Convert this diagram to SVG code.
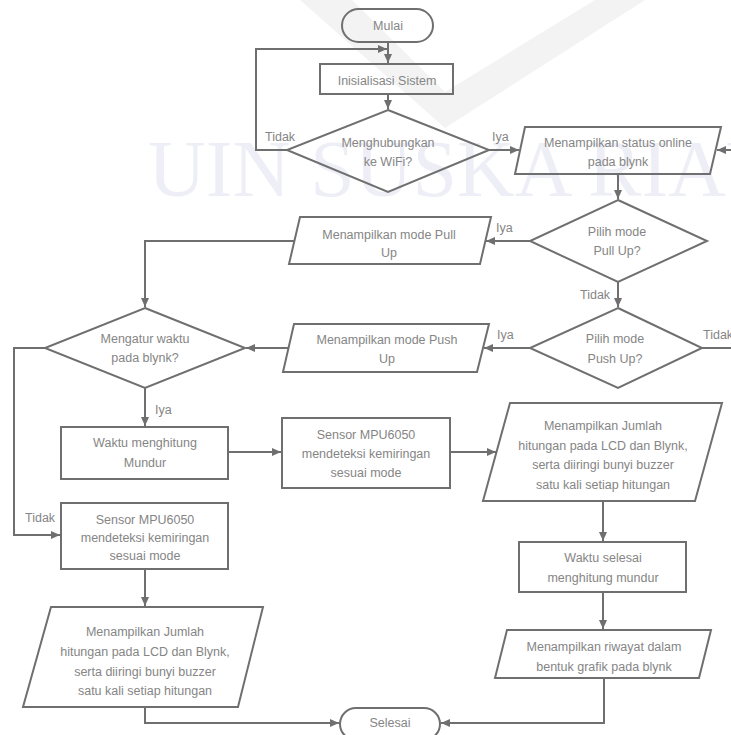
<svg xmlns="http://www.w3.org/2000/svg" width="731" height="735" viewBox="0 0 731 735">
<style>
.bg{fill:#ffffff}
.wm{font-family:"Liberation Serif","Times New Roman",serif;font-size:80px;fill:#eeeef7}
.v{fill:#f3f3f3}
.s{fill:none;stroke:#6f6f6f;stroke-width:2}
.ln{fill:none;stroke:#6f6f6f;stroke-width:2}
.t{font-family:"Liberation Sans",Arial,sans-serif;font-size:12.5px;fill:#858585;text-anchor:middle}
.l{font-family:"Liberation Sans",Arial,sans-serif;font-size:12.5px;fill:#858585;text-anchor:start}
</style>
<defs>
<marker id="ah" markerUnits="userSpaceOnUse" markerWidth="10" markerHeight="10" refX="9" refY="4" orient="auto">
<path d="M0,0 L9,4 L0,8 z" fill="#6f6f6f"/>
</marker>
</defs>
<rect class="bg" x="0" y="0" width="731" height="735"/>
<g id="watermark">
<polygon class="v" points="300,0 445,128 645,0 595,0 445,92 352,0"/>
<text class="wm" x="148" y="196">UIN SUSKA RIAU</text>
</g>
<g id="connectors">
<path class="ln" d="M388,42 V63" marker-end="url(#ah)"/>
<path class="ln" d="M287,150 H256 V49 H387" marker-end="url(#ah)"/>
<path class="ln" d="M388,94 V109" marker-end="url(#ah)"/>
<path class="ln" d="M489,150 H519" marker-end="url(#ah)"/>
<path class="ln" d="M702,348 H735 V150 H717" marker-end="url(#ah)"/>
<path class="ln" d="M618,174 V199" marker-end="url(#ah)"/>
<path class="ln" d="M530,241 H486" marker-end="url(#ah)"/>
<path class="ln" d="M294,241 H145 V307" marker-end="url(#ah)"/>
<path class="ln" d="M618,282 V307" marker-end="url(#ah)"/>
<path class="ln" d="M530,348 H484" marker-end="url(#ah)"/>
<path class="ln" d="M288,348 H246" marker-end="url(#ah)"/>
<path class="ln" d="M45,348 H14 V535 H60" marker-end="url(#ah)"/>
<path class="ln" d="M145,388 V426" marker-end="url(#ah)"/>
<path class="ln" d="M228,452 H281" marker-end="url(#ah)"/>
<path class="ln" d="M450,452 H496" marker-end="url(#ah)"/>
<path class="ln" d="M603,501 V541" marker-end="url(#ah)"/>
<path class="ln" d="M603,592 V629" marker-end="url(#ah)"/>
<path class="ln" d="M604,678 V723 H441" marker-end="url(#ah)"/>
<path class="ln" d="M145,569 V606" marker-end="url(#ah)"/>
<path class="ln" d="M145,707 V723 H339" marker-end="url(#ah)"/>
<text class="l" x="265" y="141">Tidak</text>
<text class="l" x="492" y="141">Iya</text>
<text class="l" x="496" y="232">Iya</text>
<text class="l" x="580" y="299">Tidak</text>
<text class="l" x="497" y="339">Iya</text>
<text class="l" x="703" y="339">Tidak</text>
<text class="l" x="155" y="414">Iya</text>
<text class="l" x="25" y="522">Tidak</text>
</g>
<g id="mulai">
<rect class="s" x="342" y="9" width="91" height="33" rx="16.5"/>
<text class="t" x="388" y="29.5">Mulai</text>
</g>
<g id="inisialisasi">
<rect class="s" x="320" y="64" width="133" height="30"/>
<text class="t" x="387" y="84.5">Inisialisasi Sistem</text>
</g>
<g id="wifi">
<polygon class="s" points="388,110 489,150 388,192 287,150"/>
<text class="t" x="388" y="147">Menghubungkan</text>
<text class="t" x="388" y="166">ke WiFi?</text>
</g>
<g id="status-online">
<polygon class="s" points="525,127 721,127 710,174 515,174"/>
<text class="t" x="618" y="147">Menampilkan status online</text>
<text class="t" x="618" y="166">pada blynk</text>
</g>
<g id="pullup-decision">
<polygon class="s" points="618,200 707,241 618,282 530,241"/>
<text class="t" x="617" y="236">Pilih mode</text>
<text class="t" x="617" y="255">Pull Up?</text>
</g>
<g id="pullup-output">
<polygon class="s" points="300,217 491,217 480,264 289,264"/>
<text class="t" x="389" y="239">Menampilkan mode Pull</text>
<text class="t" x="389" y="257">Up</text>
</g>
<g id="pushup-decision">
<polygon class="s" points="618,308 702,348 618,388 530,348"/>
<text class="t" x="615" y="343">Pilih mode</text>
<text class="t" x="615" y="363">Push Up?</text>
</g>
<g id="pushup-output">
<polygon class="s" points="294,324 489,324 477,372 283,372"/>
<text class="t" x="387" y="344">Menampilkan mode Push</text>
<text class="t" x="387" y="363">Up</text>
</g>
<g id="timer-decision">
<polygon class="s" points="145,308 245,348 145,388 45,348"/>
<text class="t" x="145" y="343">Mengatur waktu</text>
<text class="t" x="145" y="362">pada blynk?</text>
</g>
<g id="countdown">
<rect class="s" x="61" y="427" width="167" height="52"/>
<text class="t" x="145" y="447">Waktu menghitung</text>
<text class="t" x="145" y="467">Mundur</text>
</g>
<g id="sensor-timed">
<rect class="s" x="282" y="418" width="168" height="70"/>
<text class="t" x="366" y="439">Sensor MPU6050</text>
<text class="t" x="366" y="458">mendeteksi kemiringan</text>
<text class="t" x="366" y="477">sesuai mode</text>
</g>
<g id="display-timed">
<polygon class="s" points="510,403 722,403 695,501 483,501"/>
<text class="t" x="603" y="430">Menampilkan Jumlah</text>
<text class="t" x="603" y="450">hitungan pada LCD dan Blynk,</text>
<text class="t" x="603" y="469">serta diiringi bunyi buzzer</text>
<text class="t" x="603" y="488.5">satu kali setiap hitungan</text>
</g>
<g id="time-done">
<rect class="s" x="519" y="542" width="167" height="50"/>
<text class="t" x="603" y="562">Waktu selesai</text>
<text class="t" x="603" y="582">menghitung mundur</text>
</g>
<g id="history">
<polygon class="s" points="507,630 711,630 699,678 495,678"/>
<text class="t" x="604" y="651">Menampilkan riwayat dalam</text>
<text class="t" x="604" y="671">bentuk grafik pada blynk</text>
</g>
<g id="sensor-free">
<rect class="s" x="61" y="503" width="167" height="66"/>
<text class="t" x="145" y="524">Sensor MPU6050</text>
<text class="t" x="145" y="542">mendeteksi kemiringan</text>
<text class="t" x="145" y="560">sesuai mode</text>
</g>
<g id="display-free">
<polygon class="s" points="51,607 263,607 238,707 23,707"/>
<text class="t" x="145" y="636">Menampilkan Jumlah</text>
<text class="t" x="145" y="656">hitungan pada LCD dan Blynk,</text>
<text class="t" x="145" y="676">serta diiringi  bunyi buzzer</text>
<text class="t" x="145" y="695">satu kali setiap hitungan</text>
</g>
<g id="selesai">
<rect class="s" x="340" y="708" width="100" height="32" rx="16"/>
<text class="t" x="390" y="727">Selesai</text>
</g>
</svg>
